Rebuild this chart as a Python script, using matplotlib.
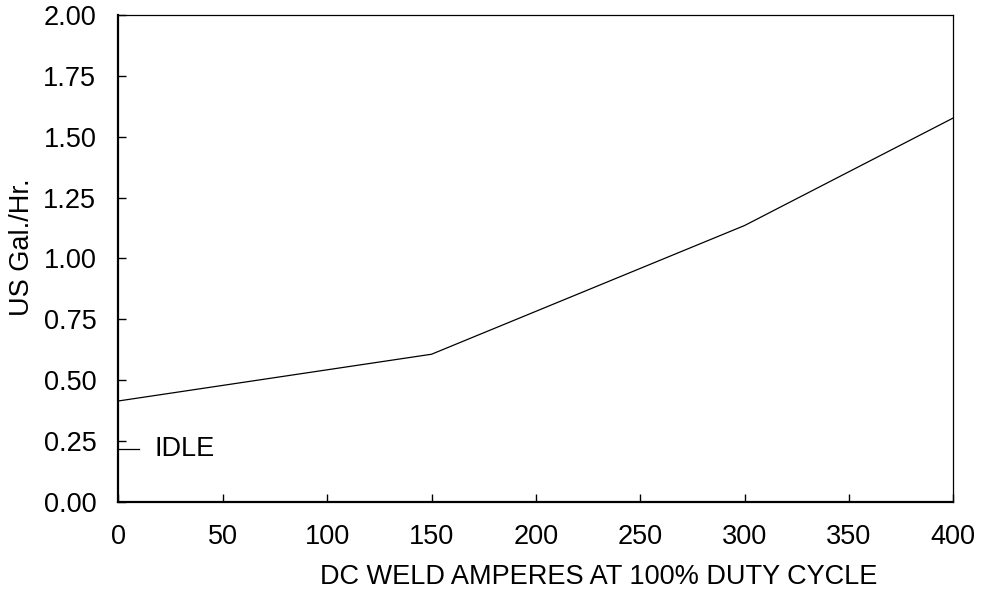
import matplotlib
matplotlib.use("Agg")
import matplotlib.pyplot as plt

plt.rcParams['font.family'] = ['Liberation Sans', 'DejaVu Sans']

amps = [0, 150, 300, 400]
gal_hr = [0.414, 0.606, 1.135, 1.577]
idle_x = [0, 9.6]
idle_y = [0.217, 0.217]
idle_label = "IDLE"
xticks = [0, 50, 100, 150, 200, 250, 300, 350, 400]
yticks = [0.0, 0.25, 0.5, 0.75, 1.0, 1.25, 1.5, 1.75, 2.0]

FS = 19.5

fig = plt.figure(figsize=(9.84, 5.91), dpi=100)
ax = fig.add_axes([0.1204, 0.1511, 0.8484, 0.8235])
ax.plot(amps, gal_hr, color='black', lw=0.9)
ax.plot(idle_x, idle_y, color='black', lw=0.9)
ax.text(17.5, idle_y[0], idle_label, fontsize=FS, va='center', ha='left')

ax.set_xlim(0, 400)
ax.set_ylim(0, 2.0)
ax.set_xticks(xticks)
ax.set_xticklabels([str(v) for v in xticks])
ax.set_yticks(yticks)
ax.set_yticklabels([f"{v:.2f}" for v in yticks])
ax.tick_params(direction='in', length=6, width=1, labelsize=FS, pad=16)
for s in ['left', 'bottom']:
    ax.spines[s].set_linewidth(1.6)
for s in ['top', 'right']:
    ax.spines[s].set_linewidth(0.9)

fig.text(598.5/984, 1 - 577/591, "DC WELD AMPERES AT 100% DUTY CYCLE",
         fontsize=FS, ha='center', va='center')
fig.text(22/984, 1 - 247/591, "US Gal./Hr.", fontsize=FS, rotation=90,
         ha='center', va='center')

fig.savefig("out.png", dpi=100)
